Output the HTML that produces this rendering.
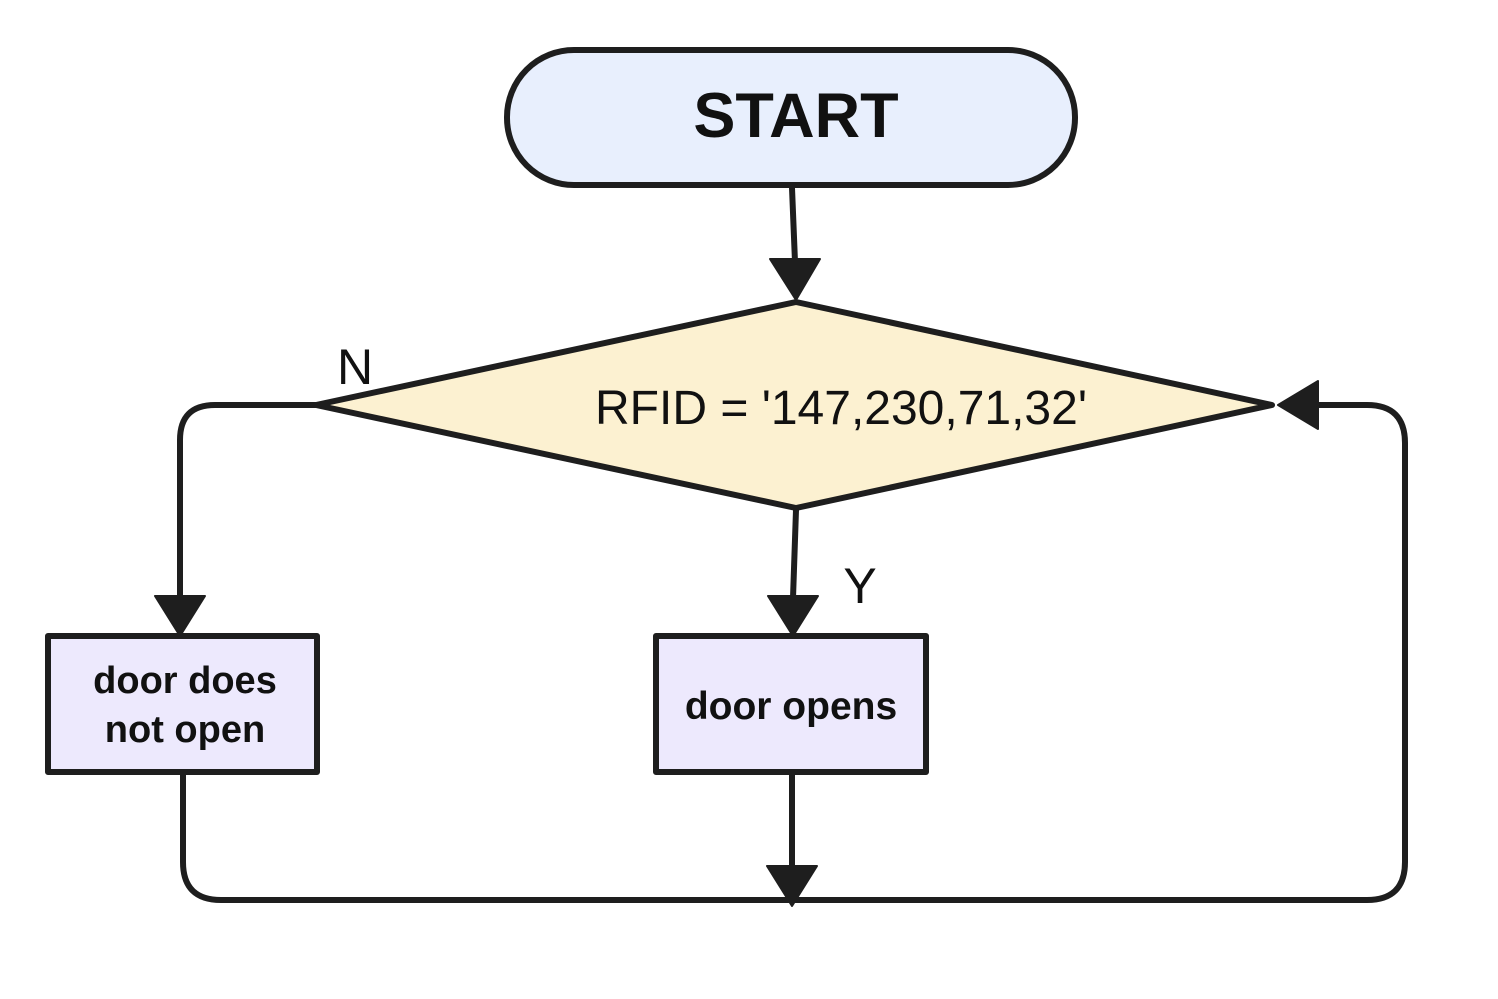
<!DOCTYPE html>
<html><head><meta charset="utf-8"><style>html,body{margin:0;padding:0;background:#fff}svg{display:block}</style></head>
<body>
<svg width="1498" height="999" viewBox="0 0 1498 999" xmlns="http://www.w3.org/2000/svg">
<g stroke="#1e1e1e" stroke-width="6" fill="none" stroke-linejoin="round" stroke-linecap="round">
<rect x="507" y="50" width="568" height="135" rx="67" fill="#e8effd"/>
<path d="M792 188 L795 262"/>
<polygon points="770,259 820,259 796,300" fill="#1e1e1e" stroke-width="2"/>
<polygon points="796,302 1272,405 796,508 316,405" fill="#fcf1d1"/>
<path d="M316 405 L215 405 Q180 405 180 440 L180 598"/>
<polygon points="155,596 205,596 180,636" fill="#1e1e1e" stroke-width="2"/>
<path d="M796 510 L793 598"/>
<polygon points="768,596 818,596 793,636" fill="#1e1e1e" stroke-width="2"/>
<rect x="48" y="636" width="269" height="136" fill="#ede9fd"/>
<rect x="656" y="636" width="270" height="136" fill="#ede9fd"/>
<path d="M183 774 L183 862 Q183 900 221 900 L1367 900 Q1405 900 1405 862 L1405 443 Q1405 405 1367 405 L1315 405"/>
<polygon points="1318,381 1318,429 1278,405" fill="#1e1e1e" stroke-width="2"/>
<path d="M792 774 L792 870"/>
<polygon points="767,866 817,866 792,906" fill="#1e1e1e" stroke-width="2"/>
</g>
<g font-family="Liberation Sans, sans-serif" fill="#111" text-anchor="middle">
<text x="796" y="137" font-size="63" font-weight="bold">START</text>
<text x="841" y="424" font-size="48">RFID = '147,230,71,32'</text>
<text x="355" y="384" font-size="50">N</text>
<text x="860" y="603" font-size="50">Y</text>
<text x="185" y="693" font-size="38" font-weight="bold">door does</text>
<text x="185" y="742" font-size="38" font-weight="bold">not open</text>
<text x="791" y="719" font-size="39" font-weight="bold">door opens</text>
</g>
</svg>
</body></html>
